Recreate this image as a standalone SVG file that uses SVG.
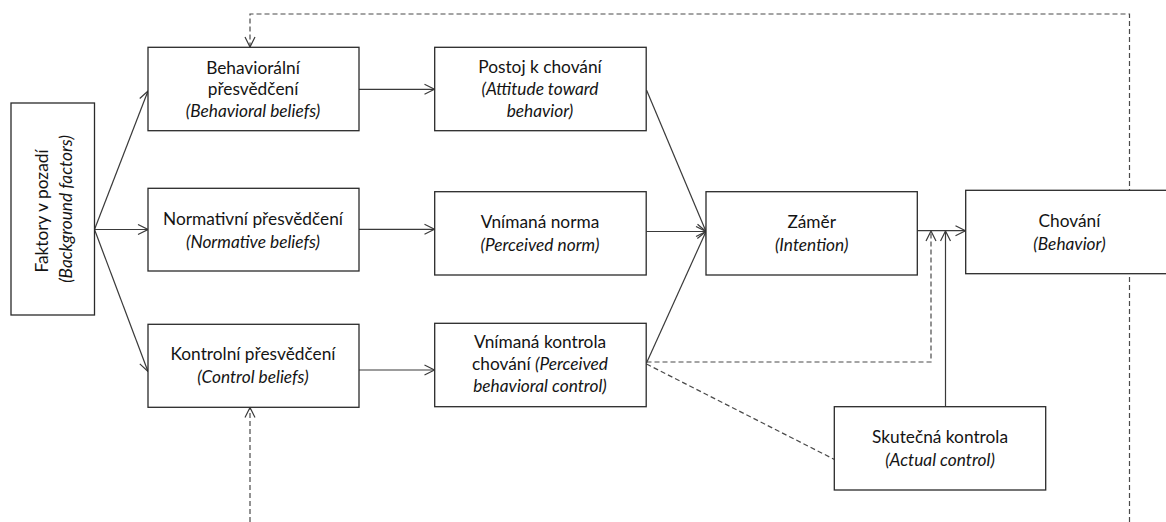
<svg xmlns="http://www.w3.org/2000/svg" width="1166" height="522" viewBox="0 0 1166 522">
  <style>
    .box { fill: #ffffff; stroke: #2a2a2a; stroke-width: 1.3; }
    .lbl { font-family: Lato, "Noto Sans", "Liberation Sans", sans-serif; font-size: 17.3px; fill: #141414; text-anchor: middle; }
    .it { font-style: italic; }
    .solid { fill: none; stroke: #3a3a3a; stroke-width: 1.2; }
    .dash { fill: none; stroke: #4a4a4a; stroke-width: 1.2; stroke-dasharray: 5 3; }
    .arr { marker-end: url(#open); }
  </style>
  <defs>
    <marker id="open" viewBox="0 0 12 12" refX="11" refY="6" markerWidth="12" markerHeight="12" markerUnits="userSpaceOnUse" orient="auto">
      <path d="M1,1 L11,6 L1,11" fill="none" stroke="#3a3a3a" stroke-width="1.2"/>
    </marker>
  </defs>
  <rect width="1166" height="522" fill="#ffffff"/>

  <g id="connectors">
    <!-- background factors fan out to the three belief boxes -->
    <path class="solid arr" d="M94.5,229.5 L148,91"/>
    <path class="solid arr" d="M94.5,229.5 L148,229.5"/>
    <path class="solid arr" d="M94.5,229.5 L148,371.5"/>
    <!-- beliefs to attitudes / norms / perceived control -->
    <path class="solid arr" d="M359,89.3 H434.5"/>
    <path class="solid arr" d="M359,229.3 H434.5"/>
    <path class="solid arr" d="M359,370 H434.5"/>
    <!-- into intention -->
    <path class="solid arr" d="M646.5,90 L706,231.5"/>
    <path class="solid arr" d="M646.5,231.5 L706,231.5"/>
    <path class="solid arr" d="M646.5,363 L706,231.5"/>
    <!-- intention to behavior -->
    <path class="solid arr" d="M917.5,230.7 H965.5"/>
    <!-- perceived control moderating path -->
    <path class="dash arr" d="M646.5,362 H931 V231"/>
    <!-- perceived control as proxy for actual control -->
    <path class="dash" d="M646.5,364 L834.5,459.5"/>
    <!-- actual control moderating path -->
    <path class="solid arr" d="M945.5,406.7 V231"/>
    <!-- feedback loops -->
    <path class="dash arr" d="M1129.5,522 V14 H250 V47"/>
    <path class="dash arr" d="M250,522 V407.5"/>
  </g>

  <g id="background-factors">
    <rect class="box" x="11" y="103" width="83.5" height="212"/>
    <text class="lbl" transform="translate(47.5,211) rotate(-90)" x="0" y="0">Faktory v pozadí</text>
    <text class="lbl it" transform="translate(71.5,209) rotate(-90)" x="0" y="0">(Background factors)</text>
  </g>

  <g id="behavioral-beliefs">
    <rect class="box" x="148" y="47.3" width="211" height="83.4"/>
    <text class="lbl" x="253" y="73.5">Behaviorální</text>
    <text class="lbl" x="253" y="95.3">přesvědčení</text>
    <text class="lbl it" x="253" y="117">(Behavioral beliefs)</text>
  </g>

  <g id="normative-beliefs">
    <rect class="box" x="148" y="188.3" width="211" height="82.7"/>
    <text class="lbl" x="253" y="225">Normativní přesvědčení</text>
    <text class="lbl it" x="253" y="248">(Normative beliefs)</text>
  </g>

  <g id="control-beliefs">
    <rect class="box" x="148" y="324.3" width="211" height="83"/>
    <text class="lbl" x="253" y="360">Kontrolní přesvědčení</text>
    <text class="lbl it" x="253" y="383">(Control beliefs)</text>
  </g>

  <g id="attitude">
    <rect class="box" x="434.7" y="47.3" width="211.5" height="83.4"/>
    <text class="lbl" x="540" y="73">Postoj k chování</text>
    <text class="lbl it" x="540" y="95">(Attitude toward</text>
    <text class="lbl it" x="540" y="116.7">behavior)</text>
  </g>

  <g id="perceived-norm">
    <rect class="box" x="434.7" y="191.7" width="211.5" height="83.3"/>
    <text class="lbl" x="540" y="228">Vnímaná norma</text>
    <text class="lbl it" x="540" y="251">(Perceived norm)</text>
  </g>

  <g id="perceived-control">
    <rect class="box" x="434.7" y="323.3" width="211.5" height="83.4"/>
    <text class="lbl" x="540" y="347.7">Vnímaná kontrola</text>
    <text class="lbl" x="540" y="369.7">chování <tspan class="it">(Perceived</tspan></text>
    <text class="lbl it" x="540" y="391.7">behavioral control)</text>
  </g>

  <g id="intention">
    <rect class="box" x="706" y="191.7" width="211.3" height="83.3"/>
    <text class="lbl" x="811.7" y="227.7">Záměr</text>
    <text class="lbl it" x="811.7" y="250.7">(Intention)</text>
  </g>

  <g id="behavior">
    <rect class="box" x="965.7" y="190.3" width="207.5" height="83.4"/>
    <text class="lbl" x="1069.5" y="226.7">Chování</text>
    <text class="lbl it" x="1069.5" y="250">(Behavior)</text>
  </g>

  <g id="actual-control">
    <rect class="box" x="834.3" y="406.7" width="211.4" height="83.3"/>
    <text class="lbl" x="940" y="442.7">Skutečná kontrola</text>
    <text class="lbl it" x="940" y="465.7">(Actual control)</text>
  </g>
</svg>
